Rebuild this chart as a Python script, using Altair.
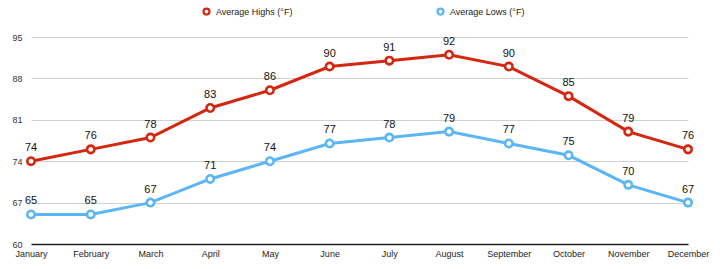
import altair as alt
import pandas as pd

months = ["January", "February", "March", "April", "May", "June", "July",
          "August", "September", "October", "November", "December"]
highs = [74, 76, 78, 83, 86, 90, 91, 92, 90, 85, 79, 76]
lows = [65, 65, 67, 71, 74, 77, 78, 79, 77, 75, 70, 67]
series = ["Average Highs (°F)", "Average Lows (°F)"]
colors = ["#d5260f", "#5cb6f5"]
y_ticks = [60, 67, 74, 81, 88, 95]

rows = []
for m, h, l in zip(months, highs, lows):
    rows.append({"month": m, "series": series[0], "temp": h})
    rows.append({"month": m, "series": series[1], "temp": l})
df = pd.DataFrame(rows)

FONT = "Liberation Sans"

x = alt.X("month:N", sort=months, scale=alt.Scale(type="point", padding=0),
          axis=alt.Axis(title=None, labelAngle=0, ticks=False, grid=False,
                        domainColor="#222222", domainWidth=1.5,
                        labelFontSize=9, labelColor="#222222", labelPadding=5,
                        labelFont=FONT))
y = alt.Y("temp:Q", scale=alt.Scale(domain=[60, 95], nice=False, zero=False),
          axis=alt.Axis(title=None, values=y_ticks, ticks=False, domain=False,
                        grid=True, gridColor="#d0d0d0", gridWidth=1.2,
                        labelFontSize=9, labelColor="#333333", labelPadding=9,
                        labelFont=FONT))
legend = alt.Legend(title=None, orient="none", legendX=171, legendY=-30,
                    direction="horizontal", symbolType="circle",
                    symbolFillColor="white", symbolStrokeWidth=2.2,
                    symbolSize=36, labelFontSize=9, labelColor="#222222",
                    labelFont=FONT, labelOffset=5, columnPadding=140,
                    padding=0, labelLimit=200)
color = alt.Color("series:N", scale=alt.Scale(domain=series, range=colors),
                  legend=legend)

base = alt.Chart(df)
lines = base.mark_line(strokeWidth=3).encode(x=x, y=y, color=color)
points = base.mark_point(filled=False, fill="white", size=55, strokeWidth=2.6,
                         opacity=1).encode(x=x, y=y, color=color)
labels = base.mark_text(dy=-13, fontSize=11, color="#111111", font=FONT).encode(
    x=x, y=y, text="temp:Q")

chart = alt.layer(lines, points, labels).properties(
    width=657, height=207,
    padding={"left": 31, "top": 37, "right": 32, "bottom": 25},
    autosize=alt.AutoSizeParams(type="none"),
    background="white",
).configure_view(stroke=None)

chart.save("out.html", embed_options={"renderer": "svg", "actions": False})
